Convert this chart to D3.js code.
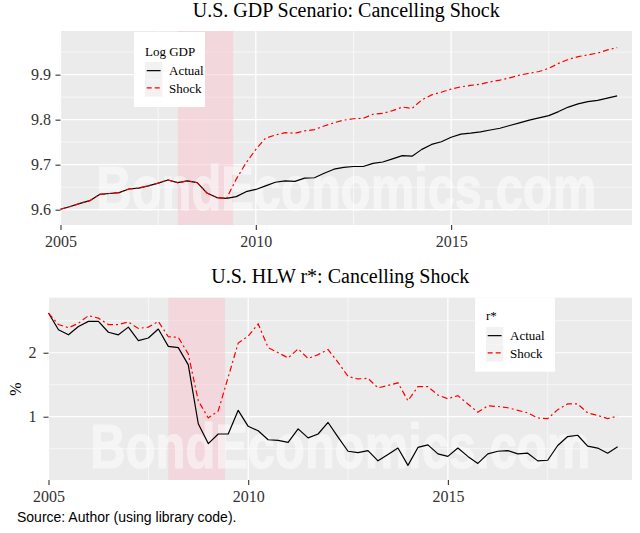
<!DOCTYPE html>
<html><head><meta charset="utf-8">
<script src="https://cdn.jsdelivr.net/npm/d3@7/dist/d3.min.js"></script>
<style>body{margin:0;background:#fff}svg{display:block}</style>
</head><body><svg id="c" width="640" height="533"></svg>
<script>
// ---------- data ----------
const startYear = 2005;
const quarters = d3.range(58).map(i => startYear + i / 4); // 2005Q1 .. 2019Q2

const gdpActual = [
  9.601, 9.607, 9.614, 9.620,
  9.634, 9.636, 9.638, 9.646,
  9.648, 9.653, 9.659, 9.666,
  9.660, 9.664, 9.660, 9.637,
  9.627, 9.625, 9.629, 9.640,
  9.645, 9.653, 9.661, 9.664,
  9.663, 9.670, 9.671, 9.681,
  9.690, 9.694, 9.696, 9.696,
  9.703, 9.706, 9.713, 9.720,
  9.719, 9.734, 9.745, 9.751,
  9.761, 9.768, 9.770, 9.773,
  9.777, 9.781, 9.787, 9.793,
  9.799, 9.804, 9.809, 9.818,
  9.828, 9.835, 9.840, 9.843,
  9.848, 9.853
];
const gdpShock = [
  9.601, 9.607, 9.614, 9.620,
  9.634, 9.636, 9.638, 9.646,
  9.648, 9.653, 9.659, 9.666,
  9.660, 9.664, 9.660, 9.637,
  9.627, 9.625, 9.668, 9.704,
  9.734, 9.759, 9.766, 9.771,
  9.770, 9.775, 9.778, 9.786,
  9.793, 9.799, 9.802, 9.803,
  9.812, 9.814, 9.820, 9.828,
  9.825, 9.844, 9.855, 9.861,
  9.868, 9.873, 9.876, 9.879,
  9.884, 9.888, 9.893, 9.899,
  9.903, 9.907, 9.914, 9.925,
  9.934, 9.940, 9.944, 9.948,
  9.955, 9.960
];
const rstarActual = [
  2.62, 2.36, 2.28, 2.41,
  2.49, 2.49, 2.32, 2.28,
  2.40, 2.19, 2.23, 2.37,
  2.10, 2.08, 1.81, 0.89,
  0.58, 0.73, 0.73, 1.10,
  0.85, 0.78, 0.64, 0.63,
  0.60, 0.81, 0.67, 0.73,
  0.91, 0.68, 0.46, 0.44,
  0.47, 0.31, 0.41, 0.51,
  0.24, 0.52, 0.56, 0.42,
  0.38, 0.51, 0.38, 0.27,
  0.42, 0.46, 0.47, 0.42,
  0.43, 0.31, 0.32, 0.55,
  0.69, 0.71, 0.54, 0.51,
  0.43, 0.53
];
const rstarShock = [
  2.62, 2.44, 2.39, 2.46,
  2.58, 2.54, 2.44, 2.44,
  2.48, 2.38, 2.40, 2.49,
  2.25, 2.24, 1.98, 1.25,
  0.98, 1.09, 1.62, 2.15,
  2.26, 2.45, 2.08, 2.00,
  1.92, 2.06, 1.91, 1.97,
  2.05, 1.85, 1.63, 1.59,
  1.60, 1.45, 1.49, 1.53,
  1.25, 1.47, 1.47, 1.34,
  1.28, 1.33, 1.20, 1.07,
  1.17, 1.16, 1.14, 1.10,
  1.06, 0.98, 0.97, 1.11,
  1.20, 1.20, 1.06, 1.02,
  0.97, 1.01
];
const yearTicks = [2005, 2010, 2015];
const yearMinor = [2007.5, 2012.5, 2017.5];
const gdpTicks = [9.6, 9.7, 9.8, 9.9];
const gdpMinor = [9.65, 9.75, 9.85, 9.95];
const rTicks = [1, 2];
const rMinor = [0.5, 1.5, 2.5];
const recession = [2008.0, 2009.42];
const seriesNames = ["Actual", "Shock"];
const titles = ["U.S. GDP Scenario: Cancelling Shock", "U.S. HLW r*: Cancelling Shock"];
const legendTitles = ["Log GDP", "r*"];
const watermark = "BondEconomics.com";
const sourceNote = "Source: Author (using library code).";

// ---------- drawing ----------
const svg = d3.select("#c");
svg.append("rect").attr("width", 640).attr("height", 533).attr("fill", "#fff");
const SERIF = "'Liberation Serif','Times New Roman',serif";
const SANS = "'Liberation Sans',Arial,sans-serif";
const RED_DASH = "6,3,2,3";

function panel(o) {
  const x = d3.scaleLinear().domain(o.xDomain).range([o.left, o.right]);
  const y = d3.scaleLinear().domain(o.yDomain).range([o.bottom, o.top]);
  const g = svg.append("g");
  g.append("rect").attr("x", o.left).attr("y", o.top)
    .attr("width", o.right - o.left).attr("height", o.bottom - o.top)
    .attr("fill", "#EBEBEB");
  // grids
  g.selectAll(null).data(o.yMinor).join("line")
    .attr("x1", o.left).attr("x2", o.right).attr("y1", d => y(d)).attr("y2", d => y(d))
    .attr("stroke", "#fff").attr("stroke-width", 0.6);
  g.selectAll(null).data(yearMinor).join("line")
    .attr("y1", o.top).attr("y2", o.bottom).attr("x1", d => x(d)).attr("x2", d => x(d))
    .attr("stroke", "#fff").attr("stroke-width", 0.6);
  g.selectAll(null).data(o.yTicks).join("line")
    .attr("x1", o.left).attr("x2", o.right).attr("y1", d => y(d)).attr("y2", d => y(d))
    .attr("stroke", "#fff").attr("stroke-width", 1.2);
  g.selectAll(null).data(yearTicks).join("line")
    .attr("y1", o.top).attr("y2", o.bottom).attr("x1", d => x(d)).attr("x2", d => x(d))
    .attr("stroke", "#fff").attr("stroke-width", 1.2);
  // recession band
  g.append("rect").attr("x", x(recession[0])).attr("y", o.top)
    .attr("width", x(recession[1]) - x(recession[0])).attr("height", o.bottom - o.top)
    .attr("fill", "#F8C8D0").attr("opacity", 0.55);
  // watermark (condensed via horizontal scale)
  const wm = g.append("text").attr("x", 0).attr("y", 0)
    .attr("text-anchor", "middle").attr("font-family", SANS).attr("font-weight", "bold")
    .attr("font-size", 63).attr("fill", "#fff").attr("stroke", "#fff").attr("stroke-width", 1.2)
    .attr("opacity", 0.5).text(watermark);
  const natural = wm.node().getComputedTextLength() || 640;
  const sx = 500 / natural;
  wm.attr("transform", `translate(${(o.left + o.right) / 2},${o.wmBase}) scale(${sx},1)`);
  // lines
  const line = d3.line().x((d, i) => x(quarters[i])).y(d => y(d));
  g.append("path").datum(o.actual).attr("d", line).attr("fill", "none")
    .attr("stroke", "#000").attr("stroke-width", 1.2).attr("stroke-linejoin", "round");
  g.append("path").datum(o.shock).attr("d", line).attr("fill", "none")
    .attr("stroke", "#FF0000").attr("stroke-width", 1.2).attr("stroke-dasharray", RED_DASH);
  // axes
  const ax = g.append("g").attr("transform", `translate(0,${o.bottom})`)
    .call(d3.axisBottom(x).tickValues(yearTicks).tickFormat(d3.format("d")).tickSize(5).tickPadding(5.3));
  const ay = g.append("g").attr("transform", `translate(${o.left},0)`)
    .call(d3.axisLeft(y).tickValues(o.yTicks).tickFormat(o.fmt).tickSize(5).tickPadding(o.yPad));
  [ax, ay].forEach(a => {
    a.attr("font-family", SERIF).attr("font-size", 16);
    a.select(".domain").remove();
    a.selectAll("line").attr("stroke", "#333").attr("stroke-width", 1.1);
    a.selectAll("text").attr("font-family", SERIF).attr("font-size", 16).attr("fill", "#333");
  });
  // title
  g.append("text").attr("x", (o.left + o.right) / 2).attr("y", o.titleBase)
    .attr("text-anchor", "middle").attr("font-family", SERIF).attr("font-size", 20)
    .attr("fill", "#000").text(o.title);
  // legend
  const L = o.legend;
  g.append("rect").attr("x", L.x).attr("y", L.y).attr("width", L.w).attr("height", L.h).attr("fill", "#fff");
  g.append("text").attr("x", L.x + 11).attr("y", L.titleBase).attr("font-family", SERIF)
    .attr("font-size", 13).attr("fill", "#000").text(o.legendTitle);
  seriesNames.forEach((name, i) => {
    const ky = L.keyTop + i * 17.3;
    g.append("rect").attr("x", L.x + 11).attr("y", ky).attr("width", 17.3).attr("height", 17.3).attr("fill", "#F2F2F2");
    g.append("line").attr("x1", L.x + 12.7).attr("x2", L.x + 26.6)
      .attr("y1", ky + 8.65).attr("y2", ky + 8.65)
      .attr("stroke", i === 0 ? "#000" : "#FF0000").attr("stroke-width", 1.2)
      .attr("stroke-dasharray", i === 0 ? null : "5,3");
    g.append("text").attr("x", L.x + 35).attr("y", ky + 13.3).attr("font-family", SERIF)
      .attr("font-size", 13).attr("fill", "#000").text(name);
  });
  return {x, y};
}

panel({
  left: 60.5, right: 632, top: 31, bottom: 225,
  xDomain: [2005, 2019.63], yDomain: [9.566, 9.997],
  yTicks: gdpTicks, yMinor: gdpMinor, fmt: d3.format(".1f"), yPad: 4.5,
  actual: gdpActual, shock: gdpShock, title: titles[0], titleBase: 16.7, wmBase: 210,
  legendTitle: legendTitles[0],
  legend: {x: 134, y: 32, w: 71, h: 75, titleBase: 55.5, keyTop: 62}
});
panel({
  left: 48.5, right: 632, top: 297.7, bottom: 480,
  xDomain: [2005, 2019.61], yDomain: [0.011, 2.86],
  yTicks: rTicks, yMinor: rMinor, fmt: d3.format("d"), yPad: 7,
  actual: rstarActual, shock: rstarShock, title: titles[1], titleBase: 283, wmBase: 468.3,
  legendTitle: legendTitles[1],
  legend: {x: 475, y: 297.7, w: 80, h: 74, titleBase: 319.5, keyTop: 327}
});

// y axis title (bottom panel)
svg.append("text").attr("transform", "translate(21,389) rotate(-90)")
  .attr("text-anchor", "middle").attr("font-family", SERIF).attr("font-size", 16)
  .attr("fill", "#000").text("%");

// source note
svg.append("text").attr("x", 17).attr("y", 521.5).attr("font-family", SANS)
  .attr("font-size", 14).attr("fill", "#000").text(sourceNote);
</script></body></html>
